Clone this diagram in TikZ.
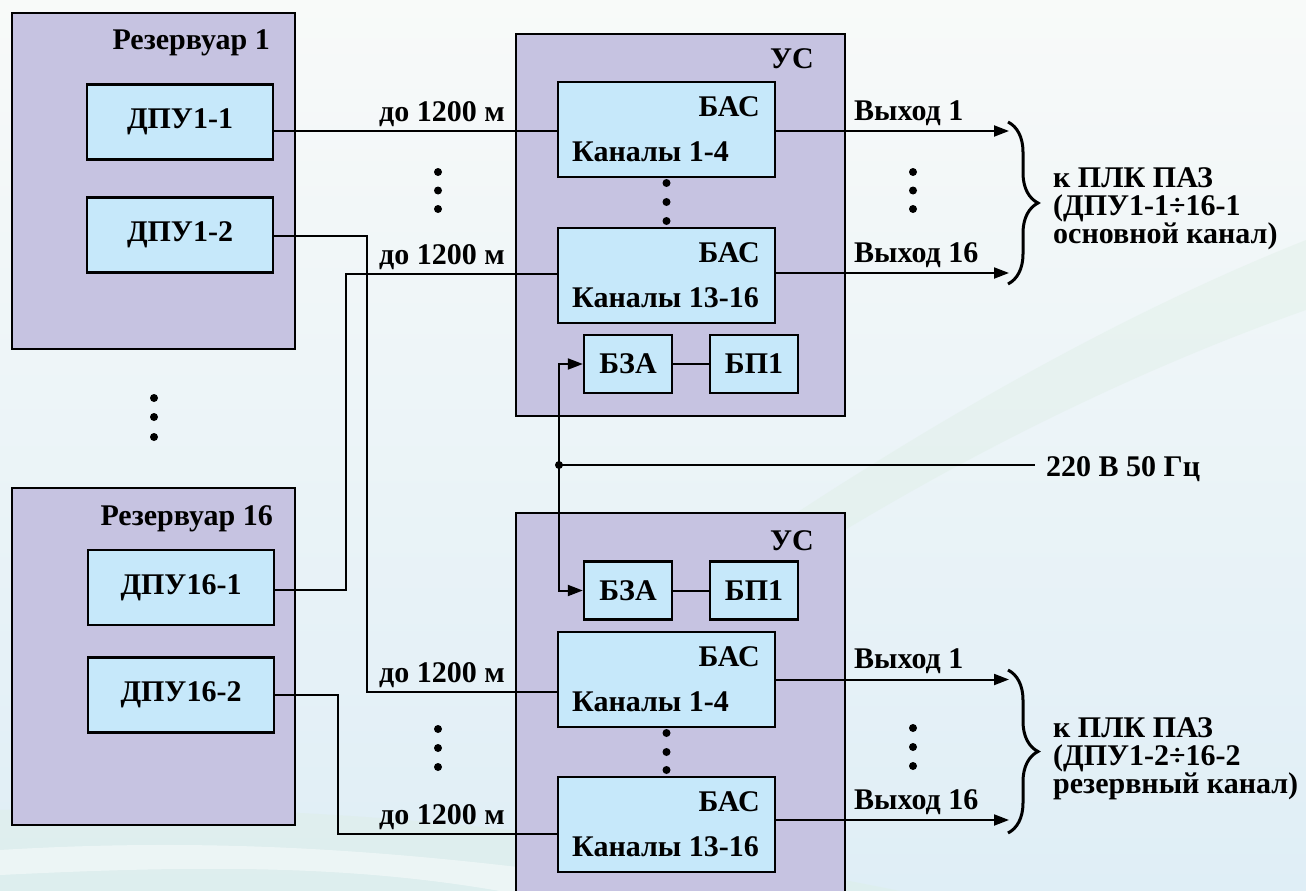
\documentclass[tikz,border=0pt]{standalone}
\usepackage{fontspec}
\setmainfont{Liberation Serif}[BoldFont={Liberation Serif Bold}]
\usetikzlibrary{arrows.meta,decorations.pathreplacing,calc}
\definecolor{lav}{HTML}{C6C3E1}
\definecolor{lblue}{HTML}{C6E8FA}
\definecolor{bgA}{HTML}{F8FAF9}
\definecolor{bgB}{HTML}{DFEEF6}
\definecolor{bgG}{HTML}{DCEEE2}
\begin{document}
\begin{tikzpicture}[x=1pt,y=-1pt,
  every node/.style={font=\bfseries\fontsize{30}{30}\selectfont, inner sep=0pt},
  outerbox/.style={draw, fill=lav, line width=2.4pt},
  innerbox/.style={draw, fill=lblue, line width=2.4pt, align=center},
  dpubox/.style={innerbox, minimum width=186pt, minimum height=75pt},
  basbox/.style={innerbox, minimum width=217pt, minimum height=95pt},
  smallbox/.style={innerbox, minimum width=88pt, minimum height=58pt},
  wire/.style={line width=2pt},
  arr/.style={line width=2pt, -{Triangle[length=15pt,width=11pt]}},
  bracestyle/.style={line width=3pt, decorate, decoration={brace, amplitude=30pt}},
]
\useasboundingbox (0,0) rectangle (1306,891);
\clip (0,0) rectangle (1306,891);
% background
\shade[top color=bgA, bottom color=bgB] (0,0) rectangle (1306,891);
\fill[bgG, opacity=0.35] (640,620) .. controls (850,470) and (1080,330) .. (1306,240) -- (1306,310) .. controls (1080,390) and (860,510) .. (660,650) -- cycle;
\fill[bgG, opacity=0.4] (0,810) .. controls (300,800) and (600,830) .. (900,891) -- (0,891) -- cycle;
\fill[white, opacity=0.45] (0,850) .. controls (250,835) and (450,855) .. (700,891) -- (500,891) .. controls (350,865) and (200,865) .. (0,875) -- cycle;

% reservoirs
\node[outerbox, minimum width=283pt, minimum height=336pt] (res1) at (153.5,181) {};
\node[anchor=base east] (res1t) at (270,50) {Резервуар 1};
\node[dpubox] (d11) at (180,122) {ДПУ1-1};
\node[dpubox] (d12) at (180,235) {ДПУ1-2};

\node[outerbox, minimum width=283pt, minimum height=337pt] (res16) at (153.5,656.5) {};
\node[anchor=base east] (res16t) at (273,525) {Резервуар 16};
\node[dpubox] (d161) at (181,587.5) {ДПУ16-1};
\node[dpubox] (d162) at (181,695) {ДПУ16-2};

% US 1
\node[outerbox, minimum width=329pt, minimum height=382pt] (us1) at (680.5,225) {};
\node[anchor=base east] (us1t) at (814,68) {УС};
\node[basbox] (bas1) at (666.5,129.5) {};
\node[anchor=base east] (bas1a) at (760,116) {БАС};
\node[anchor=base west] (bas1b) at (572,161) {Каналы 1-4};
\node[basbox] (bas2) at (666.5,275.5) {};
\node[anchor=base east] (bas2a) at (760,262) {БАС};
\node[anchor=base west] (bas2b) at (572,307) {Каналы 13-16};
\node[smallbox] (bza1) at (628,364) {БЗА};
\node[smallbox] (bp1) at (754,364) {БП1};

% US 2
\node[outerbox, minimum width=329pt, minimum height=397pt] (us2) at (680.5,711.5) {};
\node[anchor=base east] (us2t) at (814,550) {УС};
\node[smallbox] (bza2) at (628,590.5) {БЗА};
\node[smallbox] (bp2) at (754,590.5) {БП1};
\node[basbox] (bas3) at (666.5,679.5) {};
\node[anchor=base east] (bas3a) at (760,666) {БАС};
\node[anchor=base west] (bas3b) at (572,711) {Каналы 1-4};
\node[basbox] (bas4) at (666.5,824.5) {};
\node[anchor=base east] (bas4a) at (760,811) {БАС};
\node[anchor=base west] (bas4b) at (572,856) {Каналы 13-16};

% input wires
\coordinate (k2a) at (367,236);
\coordinate (k2b) at (367,692);
\coordinate (k3a) at (346,590);
\coordinate (k3b) at (346,274);
\coordinate (k4a) at (338,695);
\coordinate (k4b) at (338,834);
\draw[wire] ([yshift=-9pt]d11.east) -- ([yshift=-9pt]d11.east -| bas1.west);
\draw[wire] (d12.east |- k2a) -- (k2a) -- (k2b) -- (bas3.west |- k2b);
\draw[wire] (d161.east |- k3a) -- (k3a) -- (k3b) -- (bas2.west |- k3b);
\draw[wire] (d162.east |- k4a) -- (k4a) -- (k4b) -- (bas4.west |- k4b);

\node[anchor=base east] (l1) at (505,121) {до 1200 м};
\node[anchor=base east] (l2) at (505,264) {до 1200 м};
\node[anchor=base east] (l3) at (505,682) {до 1200 м};
\node[anchor=base east] (l4) at (505,824) {до 1200 м};

% power
\coordinate (j) at (559,465);
\node[anchor=base west] (pwr) at (1046,476) {220 В 50 Гц};
\draw[wire] (j) -- ([xshift=-11pt]pwr.west |- j);
\draw[arr] (j) |- (bza1.west);
\draw[arr] (j) |- (bza2.west);
\fill (j) circle (4pt);
\draw[wire] (bza1.east) -- (bp1.west);
\draw[wire] (bza2.east) -- (bp2.west);

% outputs
\coordinate (o) at (1009,0);
\draw[arr] ([yshift=-1.5pt]bas1.east) -- ([yshift=-1.5pt]bas1.east -| o);
\draw[arr] ([yshift=2.5pt]bas2.east) -- ([yshift=2.5pt]bas2.east -| o);
\draw[arr] (bas3.east) -- (bas3.east -| o);
\draw[arr] ([yshift=4.5pt]bas4.east) -- ([yshift=4.5pt]bas4.east -| o);
\node[anchor=base west] (out1) at (854,120) {Выход 1};
\node[anchor=base west] (out16) at (854,262) {Выход 16};
\node[anchor=base west] (out1b) at (854,668) {Выход 1};
\node[anchor=base west] (out16b) at (854,809) {Выход 16};

\draw[bracestyle] (1008,122) -- (1008,284);
\draw[bracestyle] (1008,670) -- (1008,833);
\node[anchor=base west] (p1a) at (1053,187) {к ПЛК ПАЗ};
\node[anchor=base west] (p1b) at (1053,215) {(ДПУ1-1÷16-1};
\node[anchor=base west] (p1c) at (1053,243) {основной канал)};
\node[anchor=base west] (p2a) at (1053,737) {к ПЛК ПАЗ};
\node[anchor=base west] (p2b) at (1053,765) {(ДПУ1-2÷16-2};
\node[anchor=base west] (p2c) at (1053,793) {резервный канал)};

% ellipsis dots
\foreach \y in {172,190.5,209} {\fill (438,\y) circle (4pt); \fill (913,\y) circle (4pt);}
\foreach \y in {729,748,767} {\fill (438,\y) circle (4pt); \fill (913,\y-1) circle (4pt);}
\foreach \y in {183,202,221} {\fill (666.5,\y) circle (4pt);}
\foreach \y in {733,752,770} {\fill (666.5,\y) circle (4pt);}
\foreach \y in {398,417,437} {\fill (154,\y) circle (4pt);}
\end{tikzpicture}
\end{document}
